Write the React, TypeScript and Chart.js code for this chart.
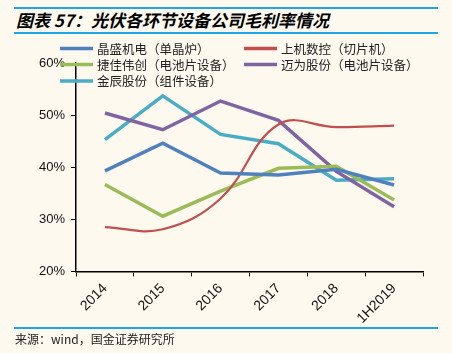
import React, { useEffect, useRef } from "react";
import { Chart, registerables } from "chart.js";

Chart.register(...registerables);

const categories = ["2014", "2015", "2016", "2017", "2018", "1H2019"];
const seriesNames = [
  "晶盛机电（单晶炉）",
  "上机数控（切片机）",
  "捷佳伟创（电池片设备）",
  "迈为股份（电池片设备）",
  "金辰股份（组件设备）",
];
const jingsheng = [39.3, 44.6, 38.9, 38.5, 39.6, 36.6];
const shangji = [28.5, 28.1, 34.0, 48.2, 47.7, 48.0];
const jiejia = [36.7, 30.6, 35.4, 39.8, 40.2, 33.7];
const maiwei = [50.4, 47.2, 52.7, 49.0, 39.2, 32.4];
const jinchen = [45.3, 53.7, 46.3, 44.5, 37.5, 37.8];
const yMin = 20;
const yMax = 60;
const yStep = 10;

const colors = ["#4F81BD", "#C0504D", "#9BBB59", "#8064A2", "#4BACC6"];
const widths = [3.5, 2.2, 3.5, 3.5, 3.5];
const tensions = [0, 0.4, 0, 0, 0];
const seriesValues = [jingsheng, shangji, jiejia, maiwei, jinchen];

const legendPlugin = {
  id: "gridLegend",
  afterDraw(chart: any) {
    const ctx = chart.ctx;
    const colX = [60, 244];
    const rowY = [48.5, 64.5, 81];
    ctx.save();
    chart.data.datasets.forEach((ds: any, i: number) => {
      const x = colX[i % 2];
      const y = rowY[Math.floor(i / 2)];
      ctx.strokeStyle = ds.borderColor;
      ctx.lineWidth = 3.5;
      ctx.lineCap = "butt";
      ctx.beginPath();
      ctx.moveTo(x, y);
      ctx.lineTo(x + 33, y);
      ctx.stroke();
      ctx.fillStyle = "#222";
      ctx.font = '12.5px "Noto Sans CJK SC"';
      ctx.textBaseline = "middle";
      ctx.textAlign = "left";
      ctx.fillText(ds.label, x + 37, y + 0.5);
    });
    ctx.restore();
  },
};

export default function App() {
  const ref = useRef<HTMLCanvasElement | null>(null);
  useEffect(() => {
    if (!ref.current) return;
    const chart = new Chart(ref.current, {
      type: "line",
      data: {
        labels: categories,
        datasets: seriesNames.map((name, i) => ({
          label: name,
          data: seriesValues[i],
          borderColor: colors[i],
          backgroundColor: colors[i],
          borderWidth: widths[i],
          tension: tensions[i],
          pointRadius: 0,
          fill: false,
        })),
      },
      options: {
        animation: false,
        responsive: false,
        devicePixelRatio: 1,
        layout: { padding: { top: 63, left: 33, right: 29, bottom: 22 } },
        plugins: {
          legend: { display: false },
          tooltip: { enabled: false },
        },
        scales: {
          x: {
            type: "category",
            offset: true,
            grid: {
              offset: true,
              drawOnChartArea: false,
              drawTicks: true,
              tickLength: 5,
              color: "#000",
            },
            border: { display: true, color: "#000", width: 1.5 },
            ticks: {
              minRotation: 45,
              maxRotation: 45,
              padding: 4,
              color: "#111",
              font: { family: '"Liberation Sans", Arial', size: 14 },
            },
          },
          y: {
            min: yMin,
            max: yMax,
            grid: {
              drawOnChartArea: false,
              drawTicks: true,
              tickLength: 5,
              color: "#000",
            },
            border: { display: true, color: "#000", width: 1.5 },
            ticks: {
              stepSize: yStep,
              padding: 6,
              color: "#111",
              font: { family: '"Liberation Sans", Arial', size: 13 },
              callback: (v: any) => v + "%",
            },
          },
        },
      },
      plugins: [legendPlugin],
    });
    return () => chart.destroy();
  }, []);

  return (
    <div
      style={{
        position: "absolute",
        left: 0,
        top: 0,
        width: 452,
        height: 353,
        background: "#fdf9ef",
        overflow: "hidden",
      }}
    >
      <div style={{ position: "absolute", left: 14, top: 7, width: 424, height: 2, background: "#1ea5e8" }} />
      <div
        style={{
          position: "absolute",
          left: 16,
          top: 8,
          height: 24,
          lineHeight: "24px",
          fontFamily: '"Noto Sans CJK SC", sans-serif',
          fontWeight: "bold",
          fontStyle: "italic",
          fontSize: 17,
          color: "#000",
          whiteSpace: "nowrap",
        }}
      >
        图表 57：光伏各环节设备公司毛利率情况
      </div>
      <div style={{ position: "absolute", left: 14, top: 32, width: 424, height: 2, background: "#1ea5e8" }} />
      <canvas ref={ref} width={452} height={353} style={{ position: "absolute", left: 0, top: 0 }} />
      <div style={{ position: "absolute", left: 14, top: 327, width: 424, height: 1.5, background: "#1ea5e8" }} />
      <div
        style={{
          position: "absolute",
          left: 15,
          top: 331,
          lineHeight: "16px",
          fontFamily: '"Noto Sans CJK SC", sans-serif',
          fontSize: 12,
          color: "#222",
          whiteSpace: "nowrap",
        }}
      >
        来源：wind，国金证券研究所
      </div>
    </div>
  );
}
